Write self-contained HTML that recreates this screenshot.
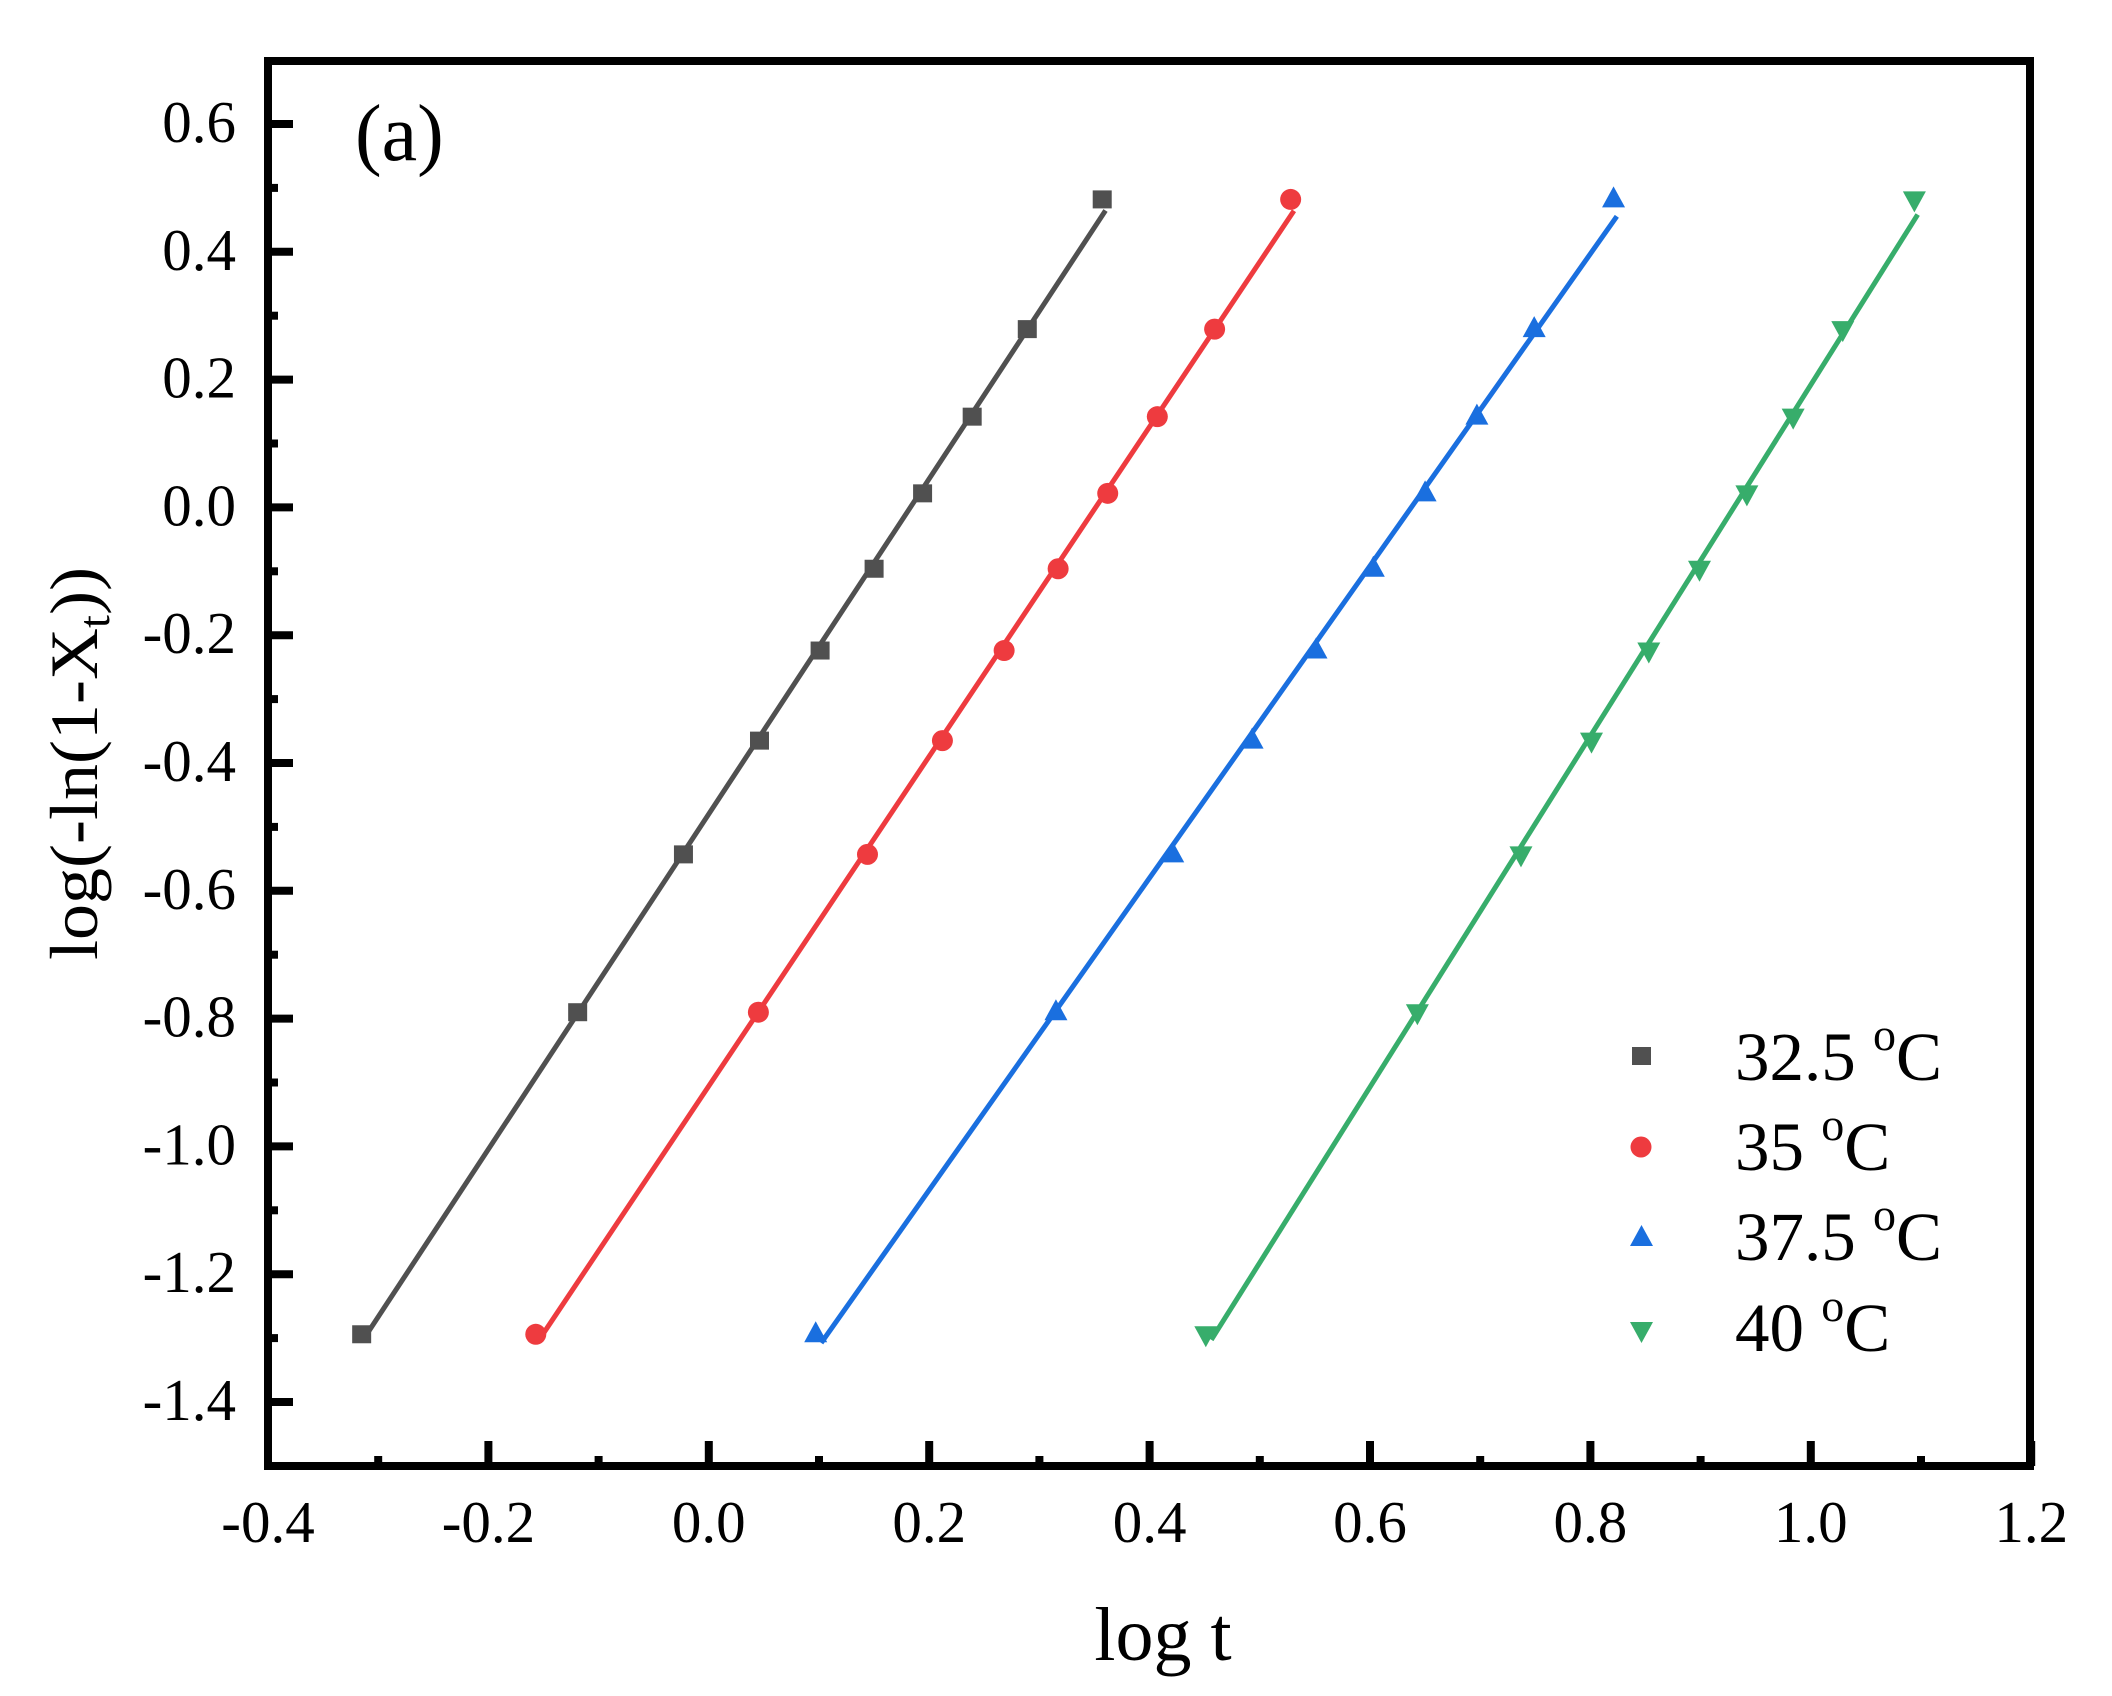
<!DOCTYPE html>
<html><head><meta charset="utf-8"><style>html,body{margin:0;padding:0;background:#fff}svg{display:block}</style></head>
<body>
<svg id="s" width="2112" height="1696" viewBox="0 0 2112 1696" xmlns="http://www.w3.org/2000/svg" font-family="Liberation Serif, serif">
<rect width="2112" height="1696" fill="#fff"/>
<g id="data"></g>
<rect x="268" y="61" width="1762" height="1405" fill="none" stroke="#000" stroke-width="8"/>
<g id="ticks" stroke="#000" stroke-width="8"></g>
<g id="labels" font-size="59" fill="#000"></g>
<text x="355" y="160" font-size="80">(a)</text>
<text x="1163" y="1660" font-size="76" text-anchor="middle">log t</text>
<text transform="translate(97,960) rotate(-90)" font-size="68" textLength="393" lengthAdjust="spacingAndGlyphs">log(-ln(1-X<tspan font-size="44" dy="12">t</tspan><tspan dy="-12">))</tspan></text>
<g font-size="69" fill="#000">
<rect x="1632" y="1047" width="19" height="18" fill="#505050"/>
<text x="1735" y="1080">32.5 <tspan font-size="46" dy="-30">o</tspan><tspan dy="30">C</tspan></text>
<circle cx="1641" cy="1147" r="10.5" fill="#ee3b3f"/>
<text x="1735" y="1170">35 <tspan font-size="46" dy="-30">o</tspan><tspan dy="30">C</tspan></text>
<polygon points="1630,1246 1653,1246 1641.5,1225" fill="#1a6fdf"/>
<text x="1735" y="1260">37.5 <tspan font-size="46" dy="-30">o</tspan><tspan dy="30">C</tspan></text>
<polygon points="1630,1322 1653,1322 1641.5,1343" fill="#37ad6b"/>
<text x="1735" y="1351">40 <tspan font-size="46" dy="-30">o</tspan><tspan dy="30">C</tspan></text>
</g>
</svg>
<script>
const NS="http://www.w3.org/2000/svg";
const X=v=>268+(v+0.4)*1102, Y=v=>124+(0.6-v)*639;
function el(t,a,p){const e=document.createElementNS(NS,t);for(const k in a)e.setAttribute(k,a[k]);p.appendChild(e);return e;}
const tk=document.getElementById('ticks'),lb=document.getElementById('labels');
for(let i=0;i<=16;i++){const v=-0.4+i*0.1,x=X(v),L=i%2==0?25:10;
 el('line',{x1:x,y1:1466,x2:x,y2:1466-L},tk);
 if(i%2==0){const t=el('text',{x:x,y:1542,'text-anchor':'middle'},lb);t.textContent=v.toFixed(1).replace('-0.0','0.0');}}
for(let i=0;i<=20;i++){const v=-1.4+i*0.1,y=Y(v),L=i%2==0?25:10;
 el('line',{x1:268,y1:y,x2:268+L,y2:y},tk);
 if(i%2==0){const t=el('text',{x:236,y:y+18,'text-anchor':'end'},lb);t.textContent=v.toFixed(1).replace('-0.0','0.0');}}
const ys=[-1.294,-0.790,-0.543,-0.365,-0.224,-0.096,0.022,0.142,0.279,0.482];
const S=[
 {c:'#505050',m:'s',x:[-0.315,-0.119,-0.023,0.046,0.101,0.150,0.194,0.239,0.289,0.357]},
 {c:'#ee3b3f',m:'c',x:[-0.157,0.045,0.144,0.212,0.268,0.317,0.362,0.407,0.459,0.528]},
 {c:'#1a6fdf',m:'u',x:[0.097,0.315,0.421,0.493,0.551,0.603,0.650,0.697,0.749,0.821]},
 {c:'#37ad6b',m:'d',x:[0.451,0.643,0.737,0.801,0.853,0.899,0.942,0.984,1.029,1.094]}];
const g=document.getElementById('data');
S.forEach(s=>{const n=10;let mx=0,my=0;for(let i=0;i<n;i++){mx+=s.x[i];my+=ys[i];}mx/=n;my/=n;
 let sxy=0,sxx=0;for(let i=0;i<n;i++){sxy+=(s.x[i]-mx)*(ys[i]-my);sxx+=(s.x[i]-mx)**2;}
 const b=sxy/sxx,a=my-b*mx,x0=s.x[0]+0.005,x1=s.x[9]+0.003;
 el('line',{x1:X(x0),y1:Y(a+b*x0),x2:X(x1),y2:Y(a+b*x1),stroke:s.c,'stroke-width':5},g);
 for(let i=0;i<n;i++){const x=X(s.x[i]),y=Y(ys[i]);
  if(s.m=='s')el('rect',{x:x-9.5,y:y-9,width:19,height:18,fill:s.c},g);
  else if(s.m=='c')el('circle',{cx:x,cy:y,r:10.5,fill:s.c},g);
  else if(s.m=='u')el('polygon',{points:`${x-11.5},${y+8} ${x+11.5},${y+8} ${x},${y-13}`,fill:s.c},g);
  else el('polygon',{points:`${x-11.5},${y-8} ${x+11.5},${y-8} ${x},${y+13}`,fill:s.c},g);}
});
</script>
</body></html>
